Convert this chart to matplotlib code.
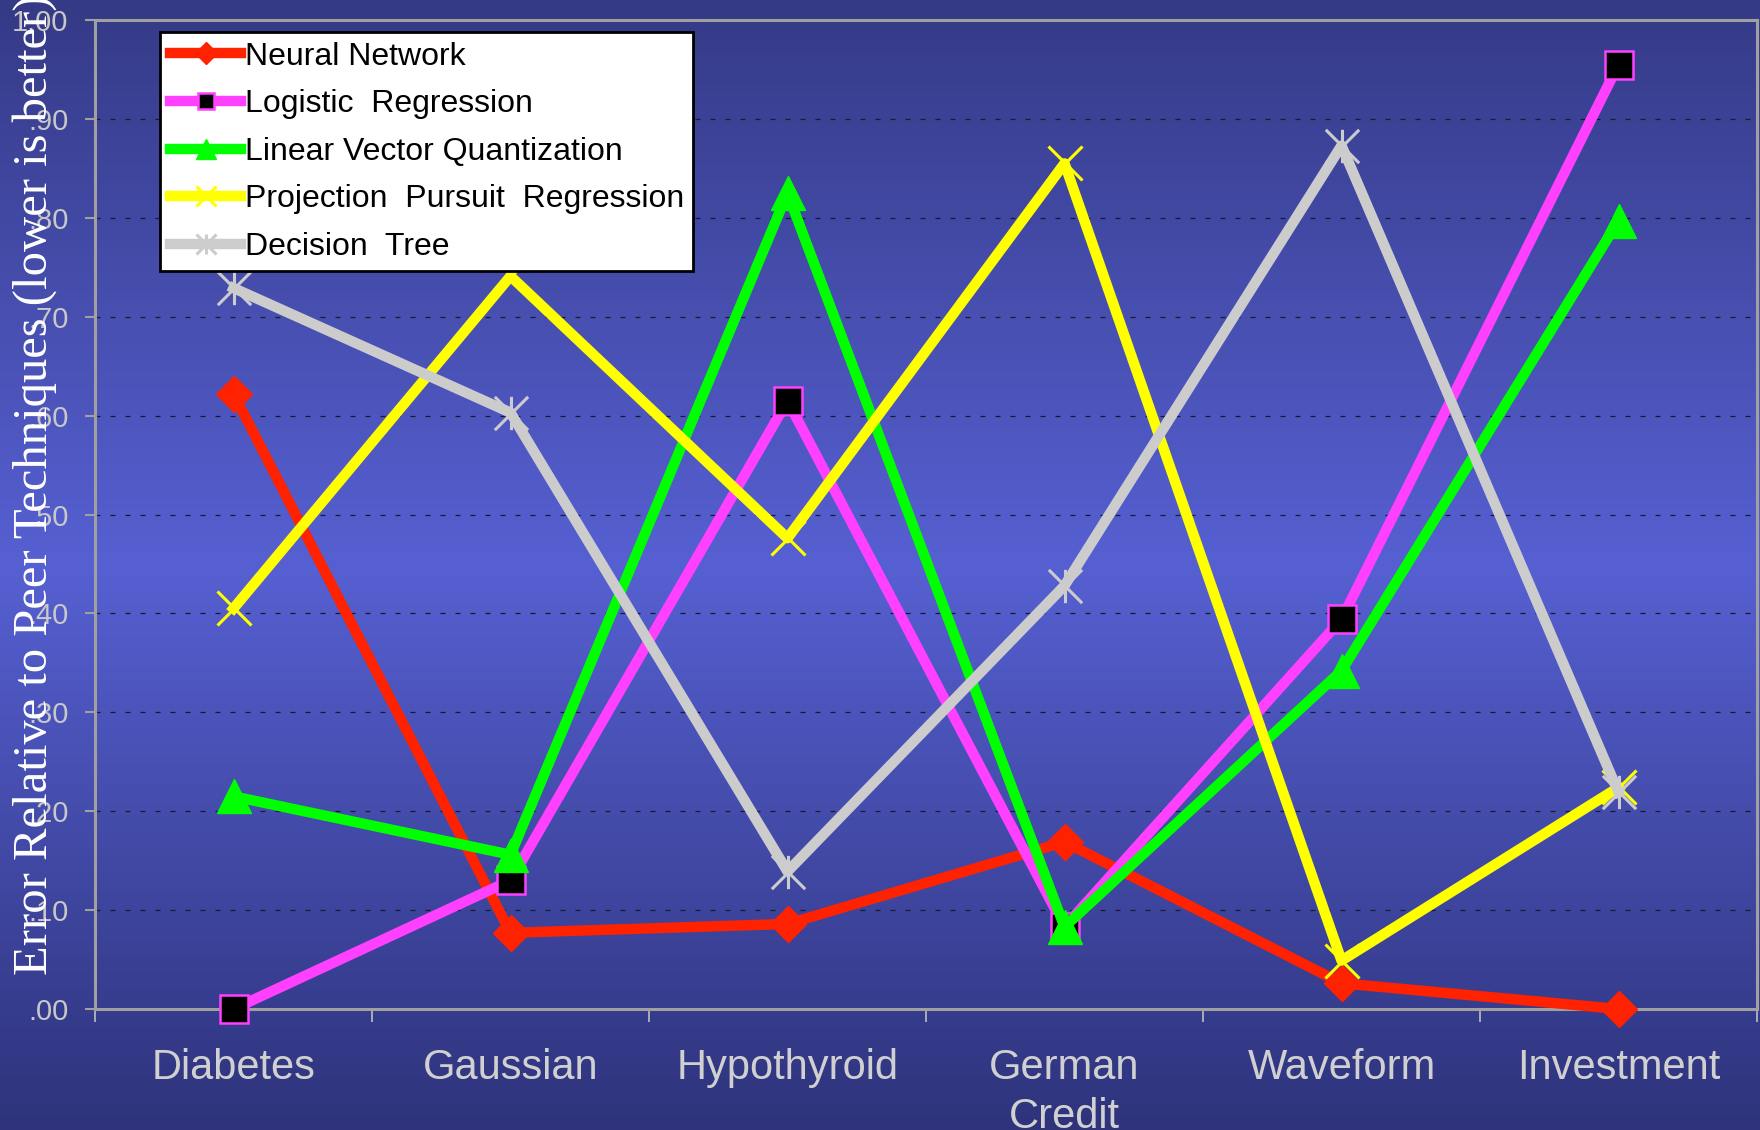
import numpy as np
import matplotlib
matplotlib.use('Agg')
import matplotlib.pyplot as plt
from matplotlib.path import Path
from matplotlib.colors import LinearSegmentedColormap

# Data
datasets = ['Diabetes', 'Gaussian', 'Hypothyroid', 'German\nCredit', 'Waveform', 'Investment']
neural_network = [0.622, 0.077, 0.086, 0.169, 0.026, 0.0]
logistic_regression = [0.0, 0.130, 0.615, 0.083, 0.394, 0.955]
lvq = [0.215, 0.156, 0.825, 0.083, 0.342, 0.797]
ppr = [0.405, 0.741, 0.476, 0.855, 0.049, 0.224]
decision_tree = [0.729, 0.603, 0.139, 0.428, 0.873, 0.219]
yticks = [0.0, 0.1, 0.2, 0.3, 0.4, 0.5, 0.6, 0.7, 0.8, 0.9, 1.0]
ytick_labels = ['.00', '.10', '.20', '.30', '.40', '.50', '.60', '.70', '.80', '.90', '1.00']

plt.rcParams['font.family'] = ['Liberation Sans', 'DejaVu Sans']

fig = plt.figure(figsize=(17.6, 11.3), dpi=100)

# gradient background over whole figure
bg = fig.add_axes([0, 0, 1, 1])
cmap = LinearSegmentedColormap.from_list(
    'bg', [(0.0, '#2e337b'), (0.5, '#5660d2'), (1.0, '#353a86')])
grad = np.linspace(0, 1, 256).reshape(-1, 1)
bg.imshow(grad, aspect='auto', cmap=cmap, extent=[0, 1, 0, 1], origin='lower')
bg.set_axis_off()
bg.set_zorder(-10)

ax = fig.add_axes([95 / 1760, 1 - 1009 / 1130, 1662 / 1760, 989 / 1130])
ax.set_facecolor('none')

x = np.arange(len(datasets))

# asterisk marker: vertical bar plus an X
star = Path([(0, -1), (0, 1), (-1, -1), (1, 1), (-1, 1), (1, -1)],
            [Path.MOVETO, Path.LINETO, Path.MOVETO, Path.LINETO, Path.MOVETO, Path.LINETO])

lw = 7.5
ax.plot(x, neural_network, color='#ff2200', lw=lw, marker='D', ms=18,
        mfc='#ff2200', mec='#ff2200', label='Neural Network', clip_on=False, zorder=4)
ax.plot(x, logistic_regression, color='#ff40ff', lw=lw, marker='s', ms=20,
        mfc='black', mec='#ff40ff', mew=1.8, label='Logistic  Regression', clip_on=False, zorder=5)
ax.plot(x, lvq, color='#00ff00', lw=lw, marker='^', ms=25,
        mfc='#00ff00', mec='#00ff00', label='Linear Vector Quantization', clip_on=False, zorder=6)
ax.plot(x, ppr, color='#ffff00', lw=lw, marker='x', ms=24, mew=2.2,
        mec='#ffff00', label='Projection  Pursuit  Regression', clip_on=False, zorder=7)
ax.plot(x, decision_tree, color='#cccccc', lw=lw, marker=star, ms=24, mew=2.2,
        mec='#cccccc', mfc='none', label='Decision  Tree', clip_on=False, zorder=8)

ax.set_xlim(-0.5, len(datasets) - 0.5)
ax.set_ylim(0, 1)

# y axis
ax.set_yticks(yticks)
ax.set_yticklabels(ytick_labels, fontsize=21, color='#c8c8c8')
ax.tick_params(axis='y', direction='out', length=7, width=1.5, color='#a0a0a0', pad=12)
ax.yaxis.grid(True, color='#1a1a2a', linestyle=(0, (4, 8)), linewidth=0.9)

# x axis: ticks at boundaries, labels at centers
ax.set_xticks(np.arange(-0.5, len(datasets), 1.0))
ax.set_xticklabels([])
ax.set_xticks(x, minor=True)
ax.set_xticklabels(datasets, minor=True, fontsize=30, color='#d0d0d0', linespacing=1.3)
ax.tick_params(axis='x', which='major', direction='out', length=9, width=1.2, color='#c0c0c0')
ax.tick_params(axis='x', which='minor', length=0, pad=28)

for side in ['left', 'right', 'top', 'bottom']:
    ax.spines[side].set_color('#a0a0a0')
    ax.spines[side].set_linewidth(2.2)

fig.text(35 / 1760, 1 - 485 / 1130, 'Error Relative to Peer Techniques (lower is better)',
         rotation=90, ha='center', va='center', fontsize=35, color='white',
         family=['Liberation Serif', 'DejaVu Serif'])

leg = fig.legend(loc='upper left', bbox_to_anchor=(160 / 1760, 1 - 32 / 1130),
                 fontsize=23, frameon=True, fancybox=False, borderaxespad=0,
                 handlelength=2.25, handletextpad=0.1, borderpad=0.3,
                 labelspacing=0.55, markerscale=0.6)
leg.get_frame().set_edgecolor('black')
leg.get_frame().set_linewidth(2)
leg.get_frame().set_facecolor('white')
leg.get_frame().set_alpha(1)
leg.set_zorder(20)

plt.savefig('out.png', dpi=100)
